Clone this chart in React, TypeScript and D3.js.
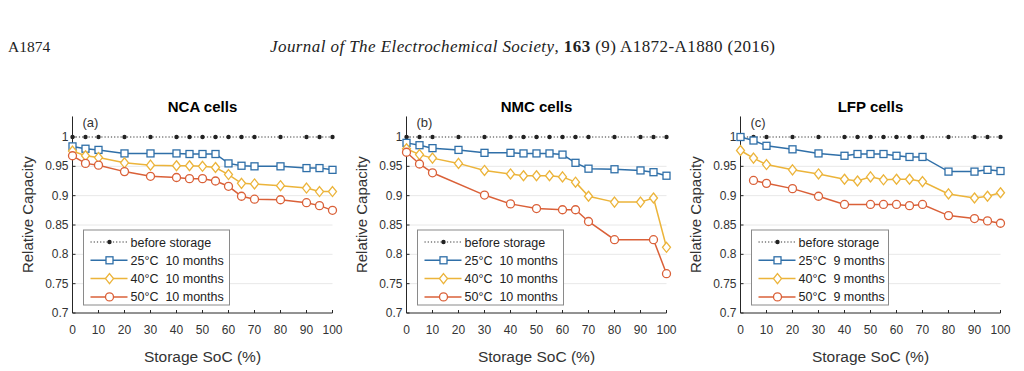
import React from 'react';
import * as d3 from 'd3';

// Storage SoC (%) at which cells were stored
const soc = [0, 5, 10, 20, 30, 40, 45, 50, 55, 60, 65, 70, 80, 90, 95, 100];
const beforeStorage = soc.map(() => 1);

const nca25 = [0.984, 0.980, 0.978, 0.972, 0.972, 0.972, 0.971, 0.971, 0.971, 0.955, 0.951, 0.950, 0.950, 0.947, 0.947, 0.944];
const nca40 = [0.976, 0.968, 0.965, 0.956, 0.952, 0.951, 0.951, 0.950, 0.948, 0.936, 0.921, 0.920, 0.917, 0.913, 0.907, 0.907];
const nca50 = [0.968, 0.955, 0.952, 0.941, 0.933, 0.931, 0.929, 0.929, 0.925, 0.916, 0.899, 0.894, 0.893, 0.888, 0.883, 0.875];

const nmc25 = [0.990, 0.986, 0.981, 0.978, 0.973, 0.973, 0.972, 0.972, 0.972, 0.970, 0.956, 0.946, 0.945, 0.943, 0.940, 0.934];
const nmc40 = [0.980, 0.970, 0.964, 0.955, 0.943, 0.937, 0.934, 0.934, 0.934, 0.932, 0.923, 0.899, 0.889, 0.889, 0.896, 0.812];
const nmc50 = [0.974, 0.954, 0.939, null, 0.901, 0.886, null, 0.878, null, 0.876, 0.876, 0.856, 0.825, null, 0.825, 0.767];

const lfp25 = [1.000, 0.994, 0.985, 0.979, 0.972, 0.968, 0.971, 0.971, 0.971, 0.968, 0.966, 0.966, 0.941, 0.941, 0.944, 0.942];
const lfp40 = [0.977, 0.964, 0.953, 0.944, 0.937, 0.928, 0.925, 0.932, 0.927, 0.928, 0.928, 0.924, 0.903, 0.896, 0.899, 0.905];
const lfp50 = [null, 0.926, 0.921, 0.912, 0.899, 0.885, null, 0.885, 0.885, 0.885, 0.883, 0.885, 0.866, 0.861, 0.857, 0.853];

const xTicks = [0, 10, 20, 30, 40, 50, 60, 70, 80, 90, 100];
const yTicks = [0.7, 0.75, 0.8, 0.85, 0.9, 0.95, 1];

const panels = [
  { title: 'NCA cells', tag: '(a)', months: '10 months', series: [nca25, nca40, nca50] },
  { title: 'NMC cells', tag: '(b)', months: '10 months', series: [nmc25, nmc40, nmc50] },
  { title: 'LFP cells', tag: '(c)', months: '9 months', series: [lfp25, lfp40, lfp50] },
];

const temps = ['25°C', '40°C', '50°C'];
const colors = ['#2f6fa8', '#ecb43a', '#da6038'];
const markers = ['square', 'diamond', 'circle'];

const FONT = 'Liberation Sans, Arial, Helvetica, sans-serif';
const SERIF = 'Liberation Serif, Times New Roman, serif';
const axisColor = '#262626';

const Marker = ({ kind, x, y, color }: { kind: string; x: number; y: number; color: string }) => {
  if (kind === 'square') {
    return <rect x={x - 3.5} y={y - 3.5} width={7} height={7} fill="white" stroke={color} strokeWidth={1.3} />;
  }
  if (kind === 'diamond') {
    return (
      <path d={`M${x},${y - 5}L${x + 4},${y}L${x},${y + 5}L${x - 4},${y}Z`} fill="white" stroke={color} strokeWidth={1.3} />
    );
  }
  return <circle cx={x} cy={y} r={4} fill="white" stroke={color} strokeWidth={1.3} />;
};

const Panel = ({ left, panel }: { left: number; panel: (typeof panels)[number] }) => {
  const width = 260;
  const bottom = 313;
  const x = d3.scaleLinear().domain([0, 100]).range([left, left + width]);
  const y = d3.scaleLinear().domain([0.7, 1.035]).range([bottom, bottom - 0.335 * (176 / 0.3)]);
  const top = y(1.035);

  const line = d3
    .line<[number, number]>()
    .x((d) => x(d[0]))
    .y((d) => y(d[1]));

  const legendW = panel.months === '9 months' ? 137 : 146;
  const lx = left + 11;
  const ly = 230;
  const rows = [0, 1, 2, 3].map((i) => ly + 12 + i * 18.3);

  return (
    <g>
      <text x={left + width / 2} y={112} textAnchor="middle" fontFamily={FONT} fontWeight="bold" fontSize={15}>
        {panel.title}
      </text>
      {/* grid */}
      {yTicks.slice(1, -1).map((t) => (
        <line key={t} x1={left} x2={left + width} y1={y(t)} y2={y(t)} stroke="#e8e8e8" strokeWidth={1} />
      ))}
      {/* axes */}
      <line x1={left} x2={left} y1={top} y2={bottom} stroke={axisColor} strokeWidth={1} />
      <line x1={left} x2={left + width} y1={bottom} y2={bottom} stroke={axisColor} strokeWidth={1} />
      {yTicks.map((t) => (
        <g key={t}>
          <line x1={left} x2={left + 3} y1={y(t)} y2={y(t)} stroke={axisColor} />
          <text x={left - 4} y={y(t) + 4} textAnchor="end" fontFamily={FONT} fontSize={12} fill="#333">
            {String(t)}
          </text>
        </g>
      ))}
      {xTicks.map((t) => (
        <g key={t}>
          <line x1={x(t)} x2={x(t)} y1={bottom} y2={bottom - 3} stroke={axisColor} />
          <text x={x(t)} y={bottom + 21} textAnchor="middle" fontFamily={FONT} fontSize={12} fill="#333">
            {t}
          </text>
        </g>
      ))}
      <text
        transform={`translate(${left - 40},${(top + bottom) / 2}) rotate(-90)`}
        textAnchor="middle"
        fontFamily={FONT}
        fontSize={15}
        fill="#333"
      >
        Relative Capacity
      </text>
      <text x={left + width / 2} y={362} textAnchor="middle" fontFamily={FONT} fontSize={15.5} fill="#333">
        Storage SoC (%)
      </text>
      <text x={left + 10} y={127} fontFamily={FONT} fontSize={13} fill="#333">
        {panel.tag}
      </text>

      {/* before storage */}
      <path
        d={line(soc.map((s, i) => [s, beforeStorage[i]]) as [number, number][]) || ''}
        fill="none"
        stroke="#333"
        strokeWidth={1.2}
        strokeDasharray="1.2,2"
      />
      {soc.map((s, i) => (
        <circle key={s} cx={x(s)} cy={y(beforeStorage[i])} r={2.2} fill="#222" />
      ))}

      {panel.series.map((vals, k) => {
        const pts = soc
          .map((s, i) => [s, vals[i]] as [number, number | null])
          .filter((d) => d[1] !== null) as [number, number][];
        return (
          <g key={k}>
            <path d={line(pts) || ''} fill="none" stroke={colors[k]} strokeWidth={1.5} />
            {pts.map((d) => (
              <Marker key={d[0]} kind={markers[k]} x={x(d[0])} y={y(d[1])} color={colors[k]} />
            ))}
          </g>
        );
      })}

      {/* legend */}
      <rect x={lx} y={ly} width={legendW} height={75} fill="white" stroke="#8a8a8a" strokeWidth={1} />
      <line x1={lx + 7} x2={lx + 44} y1={rows[0]} y2={rows[0]} stroke="#333" strokeWidth={1.2} strokeDasharray="1.2,2" />
      <circle cx={lx + 26} cy={rows[0]} r={2.2} fill="#222" />
      <text x={lx + 47} y={rows[0] + 4.5} fontFamily={FONT} fontSize={12.5} fill="#222">
        before storage
      </text>
      {temps.map((tmp, k) => (
        <g key={tmp}>
          <line x1={lx + 7} x2={lx + 44} y1={rows[k + 1]} y2={rows[k + 1]} stroke={colors[k]} strokeWidth={1.5} />
          <Marker kind={markers[k]} x={lx + 26} y={rows[k + 1]} color={colors[k]} />
          <text x={lx + 47} y={rows[k + 1] + 4.5} fontFamily={FONT} fontSize={12.5} fill="#222" xmlSpace="preserve">
            {`${tmp}  ${panel.months}`}
          </text>
        </g>
      ))}
    </g>
  );
};

export default function App() {
  const lefts = [72.5, 406.5, 740.5];
  return (
    <svg
      width={1024}
      height={371}
      style={{ position: 'absolute', left: 0, top: 0, background: 'white' }}
    >
      <text x={8} y={52} fontFamily={SERIF} fontSize={15.5} fill="#222">
        A1874
      </text>
      <text x={270} y={52} fontFamily={SERIF} fontSize={17} fill="#222" textLength={505} lengthAdjust="spacing">
        <tspan fontStyle="italic">Journal of The Electrochemical Society</tspan>
        <tspan>, </tspan>
        <tspan fontWeight="bold">163</tspan>
        <tspan> (9) A1872-A1880 (2016)</tspan>
      </text>
      {panels.map((p, i) => (
        <Panel key={p.title} left={lefts[i]} panel={p} />
      ))}
    </svg>
  );
}
